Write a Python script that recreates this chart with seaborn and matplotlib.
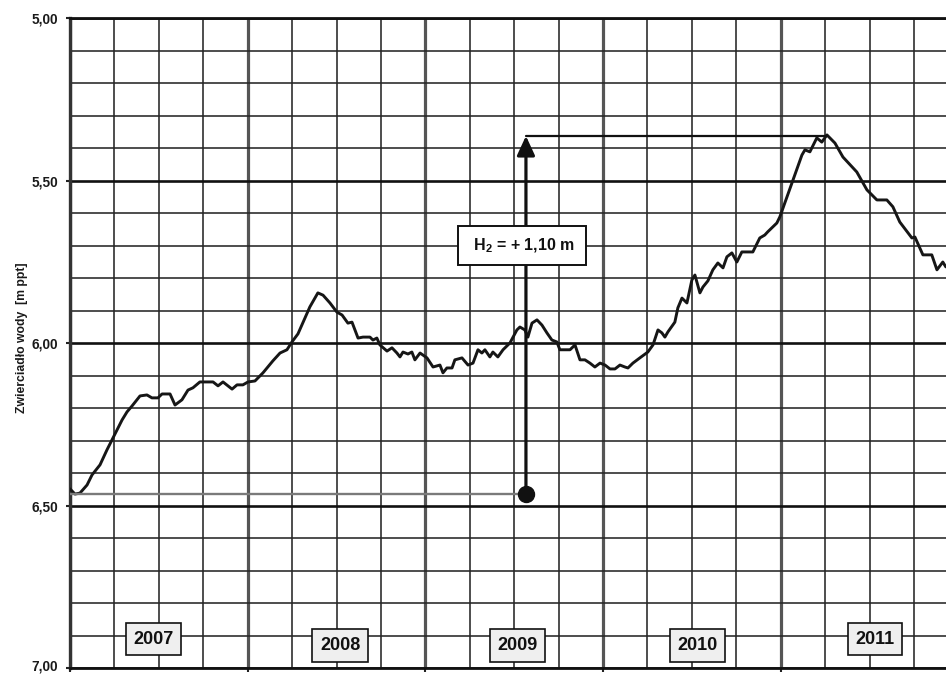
import matplotlib
matplotlib.use("Agg")
import matplotlib.pyplot as plt
import matplotlib.transforms as mtransforms
from matplotlib.ticker import MultipleLocator, FuncFormatter
import seaborn as sns

# water table depth [m ppt] vs decimal year
t_2007 = [2007.000, 2007.028, 2007.056, 2007.096, 2007.124, 2007.169, 2007.208, 2007.242,
          2007.293, 2007.321, 2007.349, 2007.394, 2007.433, 2007.461, 2007.495, 2007.518,
          2007.563, 2007.591, 2007.630, 2007.664, 2007.692, 2007.731, 2007.805, 2007.833,
          2007.861, 2007.912, 2007.940, 2007.973]
h_2007 = [6.448, 6.464, 6.461, 6.436, 6.405, 6.374, 6.328, 6.291,
          6.236, 6.211, 6.193, 6.162, 6.159, 6.168, 6.168, 6.156,
          6.156, 6.190, 6.174, 6.144, 6.137, 6.119, 6.119, 6.131,
          6.119, 6.141, 6.128, 6.128]

t_2008 = [2008.002, 2008.041, 2008.086, 2008.142, 2008.182, 2008.221, 2008.249, 2008.283,
          2008.305, 2008.350, 2008.395, 2008.424, 2008.463, 2008.502, 2008.531, 2008.564,
          2008.587, 2008.621, 2008.649, 2008.688, 2008.705, 2008.727, 2008.744, 2008.784,
          2008.812, 2008.840, 2008.857, 2008.874, 2008.902, 2008.924, 2008.941, 2008.970]
h_2008 = [6.119, 6.116, 6.091, 6.054, 6.030, 6.020, 5.996, 5.971,
          5.944, 5.888, 5.845, 5.852, 5.876, 5.904, 5.913, 5.938,
          5.935, 5.984, 5.981, 5.981, 5.990, 5.984, 6.005, 6.024,
          6.014, 6.030, 6.042, 6.027, 6.033, 6.027, 6.051, 6.030]

t_2009 = [2009.009, 2009.043, 2009.082, 2009.099, 2009.121, 2009.150, 2009.166, 2009.206,
          2009.240, 2009.268, 2009.296, 2009.318, 2009.335, 2009.363, 2009.380, 2009.408,
          2009.437, 2009.476, 2009.515, 2009.532, 2009.560, 2009.577, 2009.600, 2009.628,
          2009.656, 2009.684, 2009.712, 2009.740, 2009.757, 2009.814, 2009.842, 2009.870,
          2009.898, 2009.926, 2009.954, 2009.983]
h_2009 = [6.045, 6.073, 6.067, 6.091, 6.076, 6.076, 6.051, 6.045,
          6.067, 6.061, 6.020, 6.030, 6.020, 6.042, 6.027, 6.042,
          6.020, 5.999, 5.959, 5.950, 5.959, 5.981, 5.938, 5.928,
          5.944, 5.968, 5.990, 5.996, 6.020, 6.020, 6.005, 6.051,
          6.051, 6.061, 6.073, 6.061]

t_2010 = [2010.011, 2010.039, 2010.067, 2010.095, 2010.123, 2010.140, 2010.168, 2010.207,
          2010.252, 2010.281, 2010.309, 2010.331, 2010.348, 2010.365, 2010.404, 2010.421,
          2010.444, 2010.472, 2010.500, 2010.517, 2010.545, 2010.562, 2010.590, 2010.618,
          2010.646, 2010.675, 2010.697, 2010.725, 2010.753, 2010.781, 2010.843, 2010.882,
          2010.910, 2010.927, 2010.978, 2010.995]
h_2010 = [6.067, 6.079, 6.079, 6.067, 6.073, 6.076, 6.061, 6.045,
          6.027, 6.005, 5.959, 5.968, 5.981, 5.965, 5.935, 5.891,
          5.861, 5.876, 5.805, 5.790, 5.845, 5.827, 5.808, 5.774,
          5.753, 5.768, 5.734, 5.722, 5.750, 5.719, 5.719, 5.676,
          5.667, 5.657, 5.630, 5.611]

t_2011 = [2011.023, 2011.068, 2011.119, 2011.136, 2011.164, 2011.203, 2011.231, 2011.260,
          2011.305, 2011.350, 2011.428, 2011.485, 2011.541, 2011.597, 2011.631, 2011.670,
          2011.738, 2011.755, 2011.800, 2011.850, 2011.879, 2011.912, 2011.929]
h_2011 = [5.568, 5.498, 5.421, 5.405, 5.411, 5.368, 5.381, 5.359,
          5.384, 5.427, 5.473, 5.528, 5.559, 5.559, 5.580, 5.627,
          5.676, 5.673, 5.728, 5.728, 5.774, 5.750, 5.765]

years = t_2007 + t_2008 + t_2009 + t_2010 + t_2011
levels = h_2007 + h_2008 + h_2009 + h_2010 + h_2011

y_ticks = [5.0, 5.5, 6.0, 6.5, 7.0]
year_labels = ["2007", "2008", "2009", "2010", "2011"]
label_x = [2007.47, 2008.52, 2009.52, 2010.53, 2011.53]
label_y = [6.91, 6.93, 6.93, 6.93, 6.91]

# rise marker: start level, peak level, where the arrow stands
h_start = 6.465
h_peak = 5.362
t_arrow = 2009.566
t_peak = 2011.26
rise_text = "H$_2$ = + 1,10 m"

sns.set_theme(style="white")
plt.rcParams["font.family"] = ["Liberation Sans", "DejaVu Sans"]
plt.rcParams["mathtext.fontset"] = "custom"
plt.rcParams["mathtext.rm"] = "Liberation Sans:bold"

fig = plt.figure(figsize=(9.46, 6.74), dpi=100)
ax = fig.add_axes([0.074, 0.0085, 0.926, 0.9644])

sns.lineplot(x=years, y=levels, ax=ax, color="#161616", lw=2.1,
             estimator=None, sort=False, zorder=5)

ax.set_xlim(2007.0, 2011.93)
ax.set_ylim(7.0, 5.0)

ax.set_yticks(y_ticks)
ax.yaxis.set_minor_locator(MultipleLocator(0.1))
ax.xaxis.set_major_locator(MultipleLocator(1.0))
ax.xaxis.set_minor_locator(MultipleLocator(0.25))
ax.yaxis.set_major_formatter(FuncFormatter(lambda v, p: f"{v:.2f}".replace(".", ",")))
ax.set_xticklabels([])

ax.grid(which="major", axis="y", color="#111111", lw=1.9)
ax.grid(which="minor", axis="y", color="#262626", lw=1.15)
ax.grid(which="major", axis="x", color="#555555", lw=2.3)
ax.grid(which="minor", axis="x", color="#262626", lw=1.15)
ax.set_axisbelow(True)

ax.tick_params(axis="y", which="major", left=True, length=3, width=1.5, color="#222222",
               pad=5.5, labelsize=9.8, labelcolor="#1a1a1a")
ax.tick_params(axis="x", which="major", bottom=True, length=3, width=1.5, color="#222222")
ax.tick_params(which="minor", length=0)
for lab in ax.get_yticklabels():
    lab.set_fontweight("bold")

# keep the bottom label "7,00" inside the canvas
last = ax.yaxis.get_major_ticks()[-1].label1
last.set_transform(last.get_transform() +
                   mtransforms.ScaledTranslation(0, 3 / 100, fig.dpi_scale_trans))

for side in ["left", "top", "bottom"]:
    ax.spines[side].set_visible(True)
    ax.spines[side].set_linewidth(2.0)
ax.spines["left"].set_color("#333333")
ax.spines["left"].set_linewidth(2.4)
ax.spines["top"].set_color("#111111")
ax.spines["bottom"].set_color("#111111")
ax.spines["right"].set_visible(False)

ax.set_xlabel("")
ax.set_ylabel("")
fig.text(22 / 946, 1 - 338 / 674, "Zwierciadło wody  [m ppt]", rotation=90,
         ha="center", va="center", fontsize=8.8, fontweight="bold", color="#1a1a1a")

# rise marker
ax.plot([2007.0, t_arrow], [h_start, h_start], color="#7a7a7a", lw=1.7, zorder=6)
ax.plot([t_arrow, t_peak], [h_peak, h_peak], color="#111111", lw=1.6, zorder=6)
ax.annotate("", xy=(t_arrow, h_peak), xytext=(t_arrow, h_start),
            arrowprops=dict(arrowstyle="-|>,head_length=0.65,head_width=0.3",
                            color="#111111", lw=2.3, mutation_scale=18,
                            shrinkA=0, shrinkB=0),
            zorder=7)
ax.plot([t_arrow], [h_start], marker="o", ms=11.5, color="#111111", zorder=8)

ax.text(2009.544, 5.70, " " + rise_text + " ", ha="center", va="center",
        fontsize=11.5, fontweight="bold", color="#111111", zorder=9,
        bbox=dict(boxstyle="square,pad=0.65", fc="white", ec="#111111", lw=1.4))

for lab, x, y in zip(year_labels, label_x, label_y):
    ax.text(x, y, lab, ha="center", va="center", fontsize=13, fontweight="bold",
            color="#111111", zorder=9,
            bbox=dict(boxstyle="square,pad=0.42", fc="#efefef", ec="#111111", lw=1.2))

fig.savefig("out.png", dpi=100)
